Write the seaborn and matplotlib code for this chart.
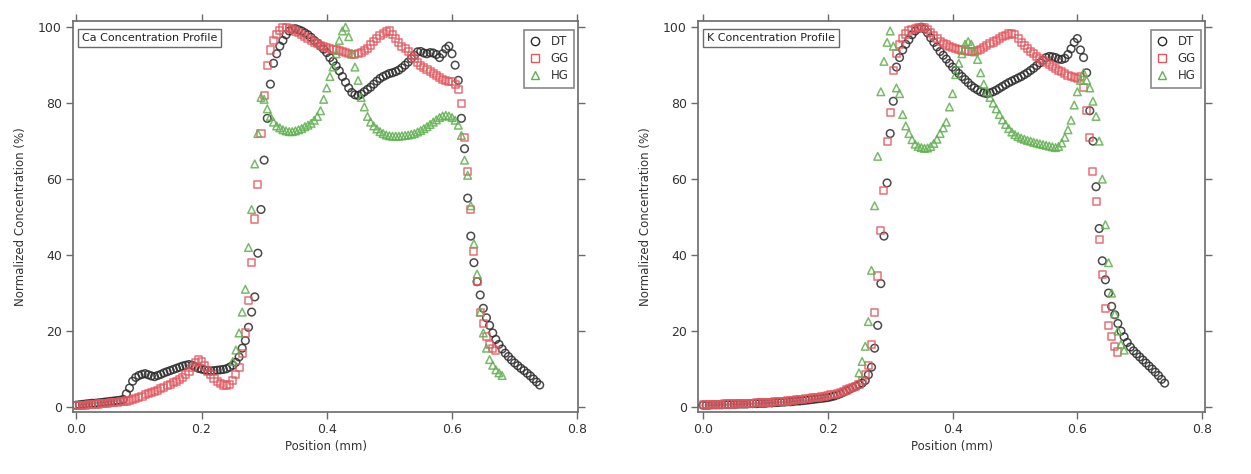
import numpy as np
import pandas as pd
import matplotlib
matplotlib.use("Agg")
import matplotlib.pyplot as plt
from matplotlib.lines import Line2D
import seaborn as sns

# ---------------- data ----------------
STEP = 0.005  # sampling step of the line scans (mm)

# Ca panel
ca_dt_start = 0.0
ca_dt = [0.5, 0.6, 0.7, 0.8, 0.9, 1.0, 1.0, 1.1, 1.2, 1.3, 1.4, 1.5, 1.6, 1.7, 1.8, 2.0,
         3.5, 5.0, 6.8, 7.8, 8.3, 8.6, 8.8, 8.5, 8.2, 8.0, 8.3, 8.6, 9.0, 9.3,
         9.6, 9.9, 10.2, 10.5, 10.8, 11.0, 11.2, 11.0, 10.6, 10.2, 10.0, 9.8, 9.6, 9.5, 9.6,
         9.7, 9.8, 9.9, 10.1, 10.5, 11.0, 11.8, 13.2, 15.5, 17.5, 21.0, 25.0, 29.0, 40.5, 52.0,
         65.0, 76.0, 85.0, 90.5, 93.0, 95.0, 96.5, 98.0, 99.0, 99.5, 99.6, 99.3, 99.0, 98.5,
         98.0, 97.3, 96.5, 95.8, 95.0, 94.2, 93.3, 92.0, 91.0, 89.8, 88.5, 87.0, 85.5, 84.0,
         82.8, 82.2, 82.0, 82.4, 83.0, 83.6, 84.2, 85.0, 85.8, 86.5, 87.0, 87.4, 87.8, 88.0,
         88.3, 88.7, 89.3, 90.0, 90.8, 91.7, 92.6, 93.5, 93.6, 93.2, 93.0, 93.3, 93.2, 92.8,
         92.0, 93.0, 94.3, 95.0, 93.0, 90.0, 86.0, 76.0, 68.0, 55.0, 45.0, 38.0, 33.0, 29.5,
         26.0, 23.5, 21.5, 19.5, 17.8, 16.5, 15.3, 14.2, 13.3, 12.4, 11.6, 10.9, 10.2, 9.6,
         8.9, 8.2, 7.4, 6.6, 5.8]
ca_gg_start = 0.0
ca_gg = [0.3, 0.4, 0.5, 0.5, 0.6, 0.7, 0.7, 0.8, 0.9, 1.0, 1.0, 1.1, 1.2, 1.3, 1.4, 1.5,
         1.6, 1.8, 2.0, 2.3, 2.6, 2.9, 3.2, 3.5, 3.8, 4.1, 4.4, 4.8, 5.2, 5.6, 6.0, 6.4,
         6.8, 7.3, 7.9, 8.6, 9.4, 10.5, 11.8, 12.5, 12.0, 10.8, 9.5, 8.5, 7.6, 6.8, 6.2,
         5.8, 5.7, 6.0, 7.0, 8.5, 10.5, 14.0, 19.5, 28.0, 38.0, 49.5, 58.5, 72.0, 82.0,
         90.0, 94.0, 96.5, 98.0, 99.2, 99.8, 100.0, 99.6, 99.4, 99.0, 98.6, 98.0, 97.5,
         97.0, 96.5, 96.0, 95.6, 95.2, 94.9, 94.6, 94.4, 94.2, 94.0, 93.8, 93.5, 93.3,
         93.0, 92.8, 92.8, 93.0, 93.3, 93.8, 94.5, 95.3, 96.2, 97.0, 97.8, 98.3, 98.8,
         99.0, 98.0, 97.0, 96.0, 95.0, 94.3, 93.5, 92.6, 91.8, 90.8, 90.0, 89.3, 88.8,
         88.3, 87.8, 87.3, 86.8, 86.3, 86.0, 85.8, 85.6, 85.0, 83.5, 80.0, 71.0, 62.0,
         52.0, 41.0, 33.0, 25.0, 22.0, 18.5, 16.5, 15.5, 15.0]
ca_hg_start = 0.25
ca_hg = [12.0, 15.0, 19.5, 25.0, 31.0, 42.0, 52.0, 64.0, 72.0, 81.5, 81.0, 78.5, 76.5,
         75.0, 74.0, 73.5, 73.0, 72.7, 72.5, 72.5, 72.7, 73.0, 73.3, 73.8, 74.2, 74.7,
         75.5, 76.5, 78.0, 81.0, 84.0, 87.0, 89.5, 93.0, 96.5, 99.0, 100.0, 97.5, 93.0,
         89.5, 86.0, 81.5, 79.0, 76.5, 75.0, 74.0, 73.2, 72.5, 72.0, 71.6, 71.4, 71.3,
         71.3, 71.3, 71.4, 71.5, 71.6, 71.8, 72.0, 72.4, 72.8, 73.3, 73.8, 74.4, 75.0,
         75.6, 76.2, 76.6, 76.8, 76.6, 76.2, 75.5, 74.2, 71.5, 65.0, 61.0, 53.0, 43.0,
         35.0, 25.0, 19.5, 15.5, 12.5, 11.0, 9.8, 9.0, 8.3]

# K panel
k_dt_start = 0.0
k_dt = [0.5, 0.5, 0.5, 0.6, 0.6, 0.6, 0.6, 0.7, 0.7, 0.7, 0.7, 0.8, 0.8, 0.8, 0.8, 0.9,
        0.9, 0.9, 1.0, 1.0, 1.0, 1.1, 1.1, 1.2, 1.2, 1.3, 1.3, 1.4, 1.4, 1.5, 1.6, 1.6,
        1.7, 1.8, 1.9, 2.0, 2.1, 2.2, 2.3, 2.4,
        2.5, 2.7, 2.9, 3.2, 3.5, 3.9, 4.3, 4.7, 5.1, 5.5, 5.9, 6.3, 7.0, 8.5, 10.5, 15.5,
        21.5, 32.5, 45.0, 59.0, 72.0, 80.5, 89.5, 92.0, 94.0, 95.5, 96.7, 98.0, 99.0,
        99.6, 100.0, 99.5, 98.5, 97.2, 96.0, 94.8, 93.6, 92.6, 91.6, 90.5, 89.5, 88.6,
        87.8, 87.0, 86.2, 85.4, 84.6, 84.0, 83.5, 83.0, 82.7, 82.5, 82.7, 83.0, 83.4,
        83.9, 84.4, 84.9, 85.4, 85.8, 86.2, 86.6, 87.0, 87.5, 88.0, 88.6, 89.2, 89.9,
        90.6, 91.3, 92.0, 92.3, 92.2, 92.0, 91.6, 91.5, 91.8, 92.8, 94.3, 96.0, 97.0,
        94.0, 92.0, 88.0, 78.0, 70.0, 58.0, 47.0, 38.5, 33.5, 30.0, 26.5, 24.3, 22.0,
        20.0, 18.5, 17.0, 15.8, 14.8, 14.0, 13.2, 12.4, 11.6, 10.8, 10.0, 9.2, 8.3,
        7.3, 6.3]
k_gg_start = 0.0
k_gg = [0.6, 0.6, 0.6, 0.7, 0.7, 0.7, 0.7, 0.8, 0.8, 0.8, 0.8, 0.9, 0.9, 0.9, 1.0, 1.0,
        1.0, 1.1, 1.1, 1.2, 1.2, 1.3, 1.3, 1.4, 1.4, 1.5, 1.5, 1.6, 1.7, 1.8, 1.9, 2.0,
        2.1, 2.2, 2.3, 2.4, 2.5, 2.6, 2.7, 2.9,
        3.0, 3.2, 3.4, 3.6, 3.9, 4.2, 4.5, 4.8, 5.1, 5.4, 6.0, 7.0, 8.5, 11.0, 16.5, 25.0,
        34.5, 46.5, 57.0, 70.0, 77.5, 88.5, 93.0, 95.5, 97.0, 98.2, 99.0, 99.5, 99.7,
        99.8, 99.8, 100.0, 99.5, 98.6, 97.7, 96.9, 96.2, 95.7, 95.3, 95.0, 94.7, 94.4,
        94.2, 94.0, 93.8, 93.6, 93.6, 93.7, 93.9, 94.2, 94.6, 95.1, 95.6, 96.1, 96.6,
        97.1, 97.5, 97.9, 98.2, 98.3, 98.0, 97.0, 96.0, 95.2, 94.4, 93.7, 93.0, 92.4,
        91.8, 91.2, 90.7, 90.2, 89.7, 89.2, 88.7, 88.3, 87.8, 87.3, 87.0, 86.7, 86.5,
        87.0, 84.0, 78.0, 71.0, 62.0, 54.0, 44.0, 35.0, 26.0, 21.5, 18.5, 16.0, 14.5]
k_hg_start = 0.25
k_hg = [9.0, 12.0, 16.0, 22.5, 36.0, 53.0, 66.0, 83.0, 91.0, 96.0, 99.0, 95.0, 84.0,
        82.5, 77.0, 74.0, 72.0, 70.4, 69.2, 68.6, 68.3, 68.1, 68.2, 68.6, 69.4, 70.5,
        72.0, 73.5, 75.0, 79.0, 82.5, 87.5, 90.5, 93.0, 95.5, 96.2, 95.5, 93.5, 91.5,
        88.0, 85.0, 83.0, 81.5, 80.0, 78.5, 77.0, 75.6, 74.4, 73.3, 72.4, 71.7, 71.2,
        70.8, 70.5, 70.2, 70.0, 69.7, 69.5, 69.3, 69.1, 68.9, 68.7, 68.5, 68.3, 68.6,
        69.5, 71.0, 73.0, 75.5, 79.5, 83.0, 86.0, 88.0, 86.0, 84.0, 80.5, 76.5, 70.0,
        60.0, 48.0, 38.0, 30.0, 24.5, 20.0, 16.5, 15.0]

series_names = ["DT", "GG", "HG"]
panel_titles = ["Ca Concentration Profile", "K Concentration Profile"]
x_ticks = [0.0, 0.2, 0.4, 0.6, 0.8]
y_ticks = [0, 20, 40, 60, 80, 100]

# ---------------- build tables ----------------
def scan(start, values, name, panel):
    x = start + STEP * np.arange(len(values))
    return pd.DataFrame({"pos": x, "conc": values, "sample": name, "panel": panel})

df = pd.concat([
    scan(ca_dt_start, ca_dt, "DT", "Ca"), scan(ca_gg_start, ca_gg, "GG", "Ca"),
    scan(ca_hg_start, ca_hg, "HG", "Ca"),
    scan(k_dt_start, k_dt, "DT", "K"), scan(k_gg_start, k_gg, "GG", "K"),
    scan(k_hg_start, k_hg, "HG", "K"),
], ignore_index=True)

# ---------------- style ----------------
sns.set_theme(style="ticks")
plt.rcParams["font.family"] = ["DejaVu Sans"]
colors = {"DT": "#2b2b2b", "GG": "#e2575d", "HG": "#5fb04f"}
markers = {"DT": "o", "GG": "s", "HG": "^"}
sizes = {"DT": 30, "GG": 26, "HG": 30}
frame_col = "#6a6a6a"
text_col = "#333333"

fig = plt.figure(figsize=(12.51, 4.74), dpi=100)
ax_l = fig.add_axes([0.0584, 0.1308, 0.4037, 0.8255])
ax_r = fig.add_axes([0.558, 0.1308, 0.4053, 0.8255])

for ax, panel, title, xl in [(ax_l, "Ca", panel_titles[0], (-0.0051, 0.8013)),
                             (ax_r, "K", panel_titles[1], (-0.008, 0.8048))]:
    sub = df[df["panel"] == panel]
    for i, name in enumerate(series_names):
        d = sub[sub["sample"] == name]
        sns.scatterplot(data=d, x="pos", y="conc", ax=ax, marker=markers[name],
                        s=sizes[name], facecolor="none", edgecolor=colors[name],
                        linewidth=1.1, alpha=0.85, zorder=3 + i, legend=False)
    ax.set_xlim(*xl)
    ax.set_ylim(-1.3, 101.7)
    ax.set_xticks(x_ticks)
    ax.set_xticklabels([f"{v:.1f}" for v in x_ticks])
    ax.set_yticks(y_ticks)
    ax.set_yticklabels([str(v) for v in y_ticks])
    ax.tick_params(axis="both", which="both", direction="out", length=5, width=1,
                   color=frame_col, labelsize=9, labelcolor=text_col,
                   top=True, right=True, labeltop=False, labelright=False, pad=3)
    for sp in ax.spines.values():
        sp.set_visible(True)
        sp.set_color(frame_col)
        sp.set_linewidth(1.2)
    ax.set_xlabel("Position (mm)", fontsize=8.5, color=text_col, labelpad=3)
    ax.set_ylabel("Normalized Concentration (%)", fontsize=8.5, color=text_col, labelpad=8)
    ax.text(0.018, 0.968, title, transform=ax.transAxes, ha="left", va="top",
            fontsize=8, color="#222222",
            bbox=dict(boxstyle="square,pad=0.35", fc="white", ec=frame_col, lw=1.0))
    handles = [Line2D([], [], linestyle="none", marker=markers[n], markersize=6,
                      markerfacecolor="none", markeredgecolor=colors[n],
                      markeredgewidth=1.0, label=n) for n in series_names]
    leg = ax.legend(handles=handles, loc="upper right", bbox_to_anchor=(0.992, 0.977),
                    frameon=True, fancybox=False, fontsize=8.5, borderpad=0.45,
                    labelspacing=0.35, handletextpad=0.8, handlelength=1.0,
                    borderaxespad=0.0)
    leg.get_frame().set_edgecolor(frame_col)
    leg.get_frame().set_linewidth(1.2)
    for t in leg.get_texts():
        t.set_color(text_col)
    ax.set_facecolor("white")

fig.savefig("out.png", dpi=100, facecolor="white")
